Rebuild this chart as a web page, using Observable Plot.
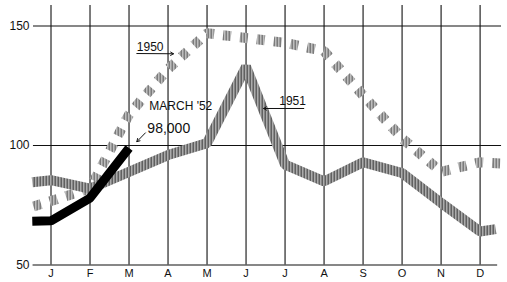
<!DOCTYPE html>
<html><head><meta charset="utf-8">
<script src="https://cdn.jsdelivr.net/npm/d3@7"></script>
<script src="https://cdn.jsdelivr.net/npm/@observablehq/plot@0.6"></script>
<style>html,body{margin:0;padding:0;background:#fff} svg{display:block}</style>
</head><body><div id="chart"></div>
<script>
// ---- data ----
const months = ["J","F","M","A","M","J","J","A","S","O","N","D"];
const yTicks = [50, 100, 150];
const v1950 = [76.8, 82, 113, 132, 147, 145, 143, 139.5, 121, 103, 89, 93];
const v1951 = [85.5, 82, 89, 96, 101, 133, 92, 85, 93, 88.5, 76, 64];
const v1952 = [68.5, 78, 99];
// run-in before January and run-out after December (month position, value)
const lead1950 = [-0.45, 74.5], tail1950 = [11.52, 92.5];
const lead1951 = [-0.48, 84.6], tail1951 = [11.4, 65];
const lead1952 = [-0.48, 68.3];
// annotations (month position, value)
const labels = [
  {text: "1950", m: 2.2, v: 141, size: 12},
  {text: "1951", m: 5.85, v: 118.4, size: 12},
  {text: "MARCH '52", m: 2.52, v: 116.3, size: 12},
  {text: "98,000", m: 2.47, v: 107.3, size: 14}
];
const pointers = [
  {m1: 2.2, v1: 138.5, m2: 3.14, v2: 138.4},
  {m1: 6.48, v1: 115.5, m2: 5.45, v2: 115.5},
  {m1: 2.42, v1: 105.3, m2: 2.2, v2: 101.6}
];

const idx = months.map((_, i) => i);
const series = (lead, vals, tail) => [
  ...(lead ? [{m: lead[0], v: lead[1]}] : []),
  ...vals.map((v, i) => ({m: i, v})),
  ...(tail ? [{m: tail[0], v: tail[1]}] : [])
];
const d1950 = series(lead1950, v1950, tail1950);
const d1951 = series(lead1951, v1951, tail1951);
const d1952 = series(lead1952, v1952, null);

const svg = Plot.plot({
  width: 507,
  height: 282,
  marginLeft: 31,
  marginRight: 4,
  marginTop: 5,
  marginBottom: 17.5,
  style: {fontFamily: "'Liberation Sans', Arial, sans-serif", background: "#fff", color: "#111"},
  x: {type: "linear", domain: [-0.5, 11.6]},
  y: {domain: [50, 158.6]},
  marks: [
    Plot.ruleX(idx, {x: d => d, y1: 50, y2: 158.6, stroke: "#111", strokeWidth: 1.1}),
    Plot.ruleY([100, 150], {y: d => d, x1: -0.45, x2: 11.55, stroke: "#111", strokeWidth: 1.1}),
    Plot.ruleY([50], {y: d => d, x1: -0.46, x2: 11.45, stroke: "#111", strokeWidth: 1.2}),
    Plot.axisY(yTicks, {tickSize: 0, tickPadding: 2, fontSize: 12, label: null}),
    Plot.axisX(idx, {tickSize: 0, tickPadding: 4, fontSize: 11, label: null, tickFormat: i => months[i]}),
    Plot.line(d1950, {x: "m", y: "v", stroke: "url(#hatch50)", strokeWidth: 10, strokeDasharray: "8,9", strokeLinecap: "butt", strokeLinejoin: "miter"}),
    Plot.line(d1951, {x: "m", y: "v", stroke: "url(#hatch51)", strokeWidth: 10, strokeLinecap: "butt", strokeLinejoin: "miter"}),
    Plot.line(d1952, {x: "m", y: "v", stroke: "#000", strokeWidth: 9, strokeLinecap: "butt", strokeLinejoin: "miter"}),
    Plot.text(labels, {x: "m", y: "v", text: "text", fontSize: d => d.size, textAnchor: "start", fill: "#111"}),
    Plot.arrow(pointers, {x1: "m1", y1: "v1", x2: "m2", y2: "v2", stroke: "#111", strokeWidth: 1, headLength: 5})
  ]
});

d3.select(svg).insert("defs", ":first-child").html(
  `<pattern id="hatch51" patternUnits="userSpaceOnUse" width="3" height="4">
     <rect width="3" height="4" fill="#d0d0d0"/><rect width="1.5" height="4" fill="#3a3a3a"/>
   </pattern>
   <pattern id="hatch50" patternUnits="userSpaceOnUse" width="3" height="4">
     <rect width="3" height="4" fill="#dedede"/><rect width="1.5" height="4" fill="#5a5a5a"/>
   </pattern>`
);
document.getElementById("chart").appendChild(svg);
</script>
</body></html>
